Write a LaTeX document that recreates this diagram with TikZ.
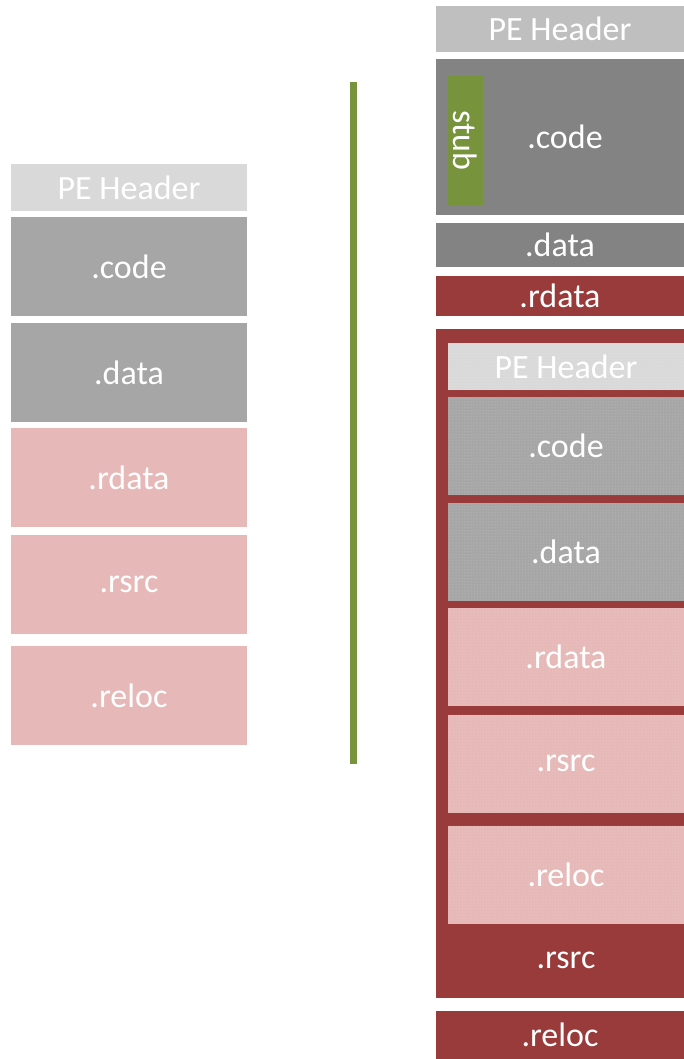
\documentclass[tikz,border=0pt]{standalone}
\usepackage{fontspec}
\setmainfont{Carlito}
\usetikzlibrary{patterns}

\definecolor{hdrlight}{HTML}{D9D9D9}
\definecolor{hdrmid}{HTML}{BFBFBF}
\definecolor{secgray}{HTML}{A6A6A6}
\definecolor{secdark}{HTML}{838383}
\definecolor{secpink}{HTML}{E6B9B8}
\definecolor{secred}{HTML}{983B3A}
\definecolor{stubgreen}{HTML}{77933C}

\tikzset{
  sec/.style={rectangle, inner sep=0pt, text=white, font=\fontsize{34}{40}\selectfont},
  packed/.style={sec, postaction={pattern=dots, pattern color=white, fill opacity=0.35}}
}

\begin{document}
\begin{tikzpicture}[x=1pt, y=-1pt]
                \useasboundingbox (0,0) rectangle (684,1059);

                % Original file
                \node[sec, fill=hdrlight, minimum width=236, minimum height=47] (lhead) at (129,187.5) {PE Header};
                \foreach \y/\n/\c [count=\i] in {266.5/.code/secgray, 372.5/.data/secgray, 477.5/.rdata/secpink, 584.5/.rsrc/secpink, 695.5/.reloc/secpink} {
                    \node[sec, fill=\c, minimum width=236, minimum height=99] (l\i) at (129,\y) {\n};
                }

                % divider
                \fill[stubgreen] (350,82) rectangle (357,764);

                % Packed file
                \node[sec, fill=hdrmid, minimum width=248, minimum height=46] (rhead) at (560,29) {PE Header};
                \node[sec, fill=secdark, minimum width=248, minimum height=156] (rcode) at (560,137) {\hspace*{10pt}.code};
                \node[sec, fill=stubgreen, minimum width=129, minimum height=35, rotate=-90] (stub) at (465.5,140.5) {stub};
                \node[sec, fill=secdark, minimum width=248, minimum height=44] (rdata) at (560,245) {.data};
                \node[sec, fill=secred, minimum width=248, minimum height=40] (rrdata) at (560,296) {.rdata};
                \node[sec, fill=secred, minimum width=248, minimum height=669] (rrsrc) at (560,663.5) {};
                \node[sec] (rrsrclabel) at (566,960) {.rsrc};
                \node[sec, fill=secred, minimum width=248, minimum height=48] (rreloc) at (560,1035) {.reloc};

                % original file inside .rsrc
                \node[packed, fill=hdrlight, minimum width=236, minimum height=47] (ihead) at (566,366.5) {PE Header};
                \foreach \y/\n/\c [count=\i] in {446/.code/secgray, 551.5/.data/secgray, 657/.rdata/secpink, 763.5/.rsrc/secpink, 874.5/.reloc/secpink} {
                    \node[packed, fill=\c, minimum width=236, minimum height=98] (i\i) at (566,\y) {\n};
                }
            \end{tikzpicture}
\end{document}
